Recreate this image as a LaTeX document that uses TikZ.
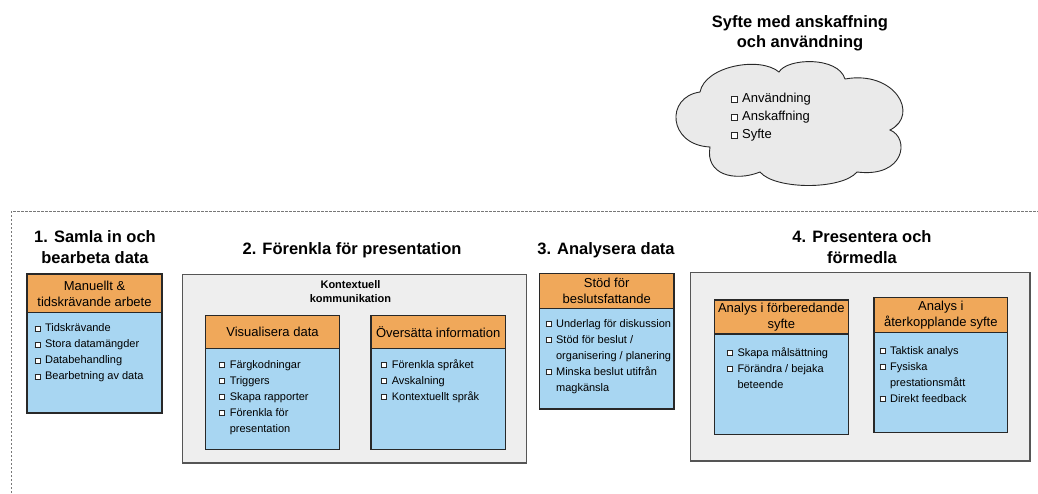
\documentclass[tikz,border=0pt]{standalone}
\usepackage{fontspec}
\setmainfont{Liberation Sans}
\definecolor{hdrorange}{RGB}{240,168,90}
\definecolor{bodyblue}{RGB}{168,214,242}
\definecolor{panelgray}{RGB}{238,238,238}
\definecolor{cloudgray}{RGB}{234,234,234}
\definecolor{edgedark}{RGB}{40,40,40}
\definecolor{paneledge}{RGB}{85,85,85}
\definecolor{dashgray}{RGB}{120,120,120}
\newcommand\cbx{\strut\makebox[10.6pt][l]{\raisebox{1.3pt}{\fboxsep=0pt\fboxrule=0.9pt\fcolorbox{edgedark}{white}{\rule{0pt}{4.2pt}\hspace{4.2pt}}}}}
\newcommand\cnt{\strut\makebox[10.6pt][l]{}}
\newcommand\cbxl{\strut\makebox[11pt][l]{\raisebox{1.4pt}{\fboxsep=0pt\fboxrule=0.9pt\fcolorbox{edgedark}{white}{\rule{0pt}{5pt}\hspace{5pt}}}}}
\tikzset{
  ttl/.style={anchor=north, inner sep=0pt, align=center, font=\bfseries\fontsize{16.5}{20.5}\selectfont, execute at begin node=\strut},
  subttl/.style={anchor=north, inner sep=0pt, align=center, font=\bfseries\fontsize{11}{13.5}\selectfont, execute at begin node=\strut},
  hdr/.style={draw=edgedark, line width=1.2pt, fill=hdrorange, inner sep=1pt, align=center, font=\fontsize{13}{16}\selectfont},
  bodybox/.style={draw=edgedark, line width=1.2pt, fill=bodyblue, inner sep=0pt},
  panel/.style={draw=paneledge, line width=1.3pt, fill=panelgray, inner sep=0pt},
  lst/.style={anchor=north west, inner sep=0pt, align=left, font=\fontsize{11}{16}\selectfont},
  cloudlst/.style={anchor=north west, inner sep=0pt, align=left, font=\fontsize{13}{18}\selectfont},
  cloudsty/.style={draw=edgedark, line width=0.9pt, fill=cloudgray},
  dashline/.style={draw=dashgray, line width=0.8pt, dash pattern=on 2.5pt off 1.5pt}
}
\begin{document}
\begin{tikzpicture}[x=1pt, y=-1pt]
\useasboundingbox (0,0) rectangle (1038,493);

% dashed frame
\coordinate (dbl) at (11,493);
\coordinate (dtl) at (11,211);
\coordinate (dtr) at (1038,211);
\draw[dashline] (dbl) -- (dtl) -- (dtr);

% cloud
\node[ttl] (ctitle) at (800,15) {Syfte med anskaffning\\och användning};
\draw[cloudsty] (700,92) .. controls (705,66) and (760,56) .. (779,72)
  .. controls (787,58) and (838,56) .. (845,79)
  .. controls (895,70) and (920,115) .. (890,130)
  .. controls (910,138) and (905,178) .. (857,172)
  .. controls (842,190) and (775,190) .. (760,172)
  .. controls (735,182) and (705,175) .. (710,147)
  .. controls (668,145) and (665,97) .. (700,92) -- cycle;
\node[cloudlst] (clist) at (731,90.1) {\cbxl Användning\\\cbxl Anskaffning\\\cbxl Syfte};

% section 1
\node[ttl] (t1) at (95,230.5) {1. Samla in och\\bearbeta data};
\node[bodybox, minimum width=135pt, minimum height=100.3pt] (b1) at (94.5,362.85) {};
\node[hdr, minimum width=135pt, minimum height=38.7pt] (h1) at (94.5,293.35) {Manuellt \&\\tidskrävande arbete};
\node[lst] (l1) at (34.3,320.5) {\cbx Tidskrävande\\\cbx Stora datamängder\\\cbx Databehandling\\\cbx Bearbetning av data};

% section 2
\node[ttl] (t2) at (352,239.5) {2. Förenkla för presentation};
\node[panel, minimum width=344pt, minimum height=188.7pt] (p2) at (354.7,368.65) {};
\node[subttl] (k2) at (350.5,280.5) {Kontextuell\\kommunikation};
\node[bodybox, minimum width=133.6pt, minimum height=101pt] (b2a) at (272.5,398.8) {};
\node[hdr, minimum width=133.6pt, minimum height=32.6pt] (h2a) at (272.5,332) {Visualisera data};
\node[lst] (l2a) at (219,357.1) {\cbx Färgkodningar\\\cbx Triggers\\\cbx Skapa rapporter\\\cbx Förenkla för\\\cnt presentation};
\node[bodybox, minimum width=134.3pt, minimum height=101pt] (b2b) at (438.15,398.8) {};
\node[hdr, minimum width=134.3pt, minimum height=32.6pt] (h2b) at (438.15,332) {Översätta information};
\node[lst] (l2b) at (381,357.1) {\cbx Förenkla språket\\\cbx Avskalning\\\cbx Kontextuellt språk};

% section 3
\node[ttl] (t3) at (606,239.5) {3. Analysera data};
\node[bodybox, minimum width=134.7pt, minimum height=100.7pt] (b3) at (606.65,358.65) {};
\node[hdr, minimum width=134.7pt, minimum height=35pt] (h3) at (606.65,290.8) {Stöd för\\beslutsfattande};
\node[lst] (l3) at (545.3,316.1) {\cbx Underlag för diskussion\\\cbx Stöd för beslut /\\\cnt organisering / planering\\\cbx Minska beslut utifrån\\\cnt magkänsla};

% section 4
\node[ttl] (t4) at (862,230.5) {4. Presentera och\\förmedla};
\node[panel, minimum width=339.3pt, minimum height=188.3pt] (p4) at (860.35,366.85) {};
\node[bodybox, minimum width=134pt, minimum height=100.3pt] (b4a) at (781.3,384.15) {};
\node[hdr, minimum width=134pt, minimum height=34pt] (h4a) at (781.3,317) {Analys i förberedande\\syfte};
\node[lst] (l4a) at (726.7,345.1) {\cbx Skapa målsättning\\\cbx Förändra / bejaka\\\cnt beteende};
\node[bodybox, minimum width=133.7pt, minimum height=99.6pt] (b4b) at (940.85,382.5) {};
\node[hdr, minimum width=133.7pt, minimum height=35pt] (h4b) at (940.85,315.2) {Analys i\\återkopplande syfte};
\node[lst] (l4b) at (879.3,342.8) {\cbx Taktisk analys\\\cbx Fysiska\\\cnt prestationsmått\\\cbx Direkt feedback};
\end{tikzpicture}
\end{document}
